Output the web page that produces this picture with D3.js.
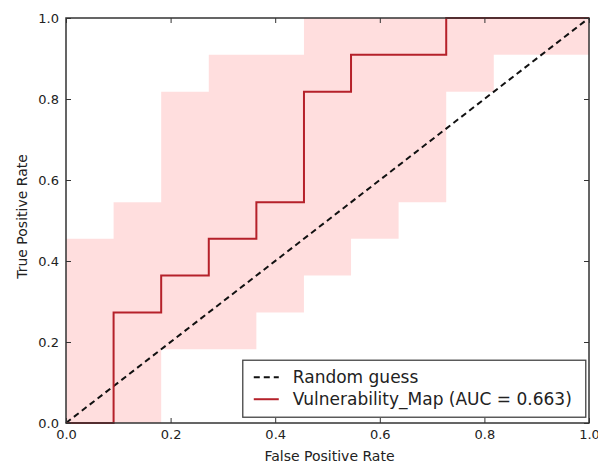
<!DOCTYPE html>
<html>
<head>
<meta charset="utf-8">
<script src="https://cdn.jsdelivr.net/npm/d3@7"></script>
<style>
  body { margin: 0; background: #fff; }
  text { font-family: "DejaVu Sans", sans-serif; fill: #222; }
</style>
</head>
<body>
<div id="chart"></div>
<script>
var svgWidth = 598;
var svgHeight = 466;

var margin = { top: 18, right: 9, bottom: 43, left: 66 };
var width = svgWidth - margin.left - margin.right;
var height = svgHeight - margin.top - margin.bottom;

// ROC curve (step after)
var rocFpr = [0, 0.091, 0.182, 0.273, 0.364, 0.455, 0.545, 0.727, 1.0];
var rocTpr = [0, 0.273, 0.364, 0.455, 0.545, 0.818, 0.909, 1.0, 1.0];

// confidence band (step after)
var bandFpr = [0, 0.091, 0.182, 0.273, 0.364, 0.455, 0.545, 0.636, 0.727, 0.818, 1.0];
var bandLow = [0, 0, 0.182, 0.182, 0.273, 0.364, 0.455, 0.545, 0.818, 0.909, 0.909];
var bandHigh = [0.455, 0.545, 0.818, 0.909, 0.909, 1.0, 1.0, 1.0, 1.0, 1.0, 1.0];

var guessX = [0, 1];
var guessY = [0, 1];

var tickValues = [0, 0.2, 0.4, 0.6, 0.8, 1.0];
var legendLabels = ["Random guess", "Vulnerability_Map (AUC = 0.663)"];

var svg = d3.select("#chart")
    .append("svg")
    .attr("width", svgWidth)
    .attr("height", svgHeight);

var chartGroup = svg.append("g")
    .attr("transform", `translate(${margin.left}, ${margin.top})`);

var x = d3.scaleLinear().domain([0, 1]).range([0, width]);
var y = d3.scaleLinear().domain([0, 1]).range([height, 0]);

// band
var band = bandFpr.map((f, i) => ({ f: f, lo: bandLow[i], hi: bandHigh[i] }));
chartGroup.append("path")
    .datum(band)
    .attr("d", d3.area()
        .x(d => x(d.f))
        .y0(d => y(d.lo))
        .y1(d => y(d.hi))
        .curve(d3.curveStepAfter))
    .attr("fill", "#ff0000")
    .attr("fill-opacity", 0.13);

// random guess diagonal
chartGroup.append("path")
    .datum(guessX.map((g, i) => [g, guessY[i]]))
    .attr("d", d3.line().x(d => x(d[0])).y(d => y(d[1])))
    .attr("fill", "none")
    .attr("stroke", "#111")
    .attr("stroke-width", 2)
    .attr("stroke-dasharray", "6,4");

// roc curve
chartGroup.append("path")
    .datum(rocFpr.map((f, i) => [f, rocTpr[i]]))
    .attr("d", d3.line().x(d => x(d[0])).y(d => y(d[1])).curve(d3.curveStepAfter))
    .attr("fill", "none")
    .attr("stroke", "#b5212a")
    .attr("stroke-width", 2);

// axes, ticks pointing inward
var bottomAxis = d3.axisBottom(x).tickValues(tickValues).tickFormat(d3.format(".1f")).tickSizeInner(-5).tickSizeOuter(0).tickPadding(7);
var leftAxis = d3.axisLeft(y).tickValues(tickValues).tickFormat(d3.format(".1f")).tickSizeInner(-5).tickSizeOuter(0).tickPadding(7);
var topAxis = d3.axisTop(x).tickValues(tickValues).tickFormat("").tickSizeInner(-5).tickSizeOuter(0);
var rightAxis = d3.axisRight(y).tickValues(tickValues).tickFormat("").tickSizeInner(-5).tickSizeOuter(0);

function styleAxis(g) {
    g.select(".domain").remove();
    g.selectAll(".tick line").attr("stroke", "#333").attr("stroke-width", 1);
    g.selectAll(".tick text").attr("font-size", "13px").attr("fill", "#222");
}

chartGroup.append("g").attr("transform", `translate(0, ${height})`).call(bottomAxis).call(styleAxis);
chartGroup.append("g").call(leftAxis).call(styleAxis);
chartGroup.append("g").call(topAxis).call(styleAxis);
chartGroup.append("g").attr("transform", `translate(${width}, 0)`).call(rightAxis).call(styleAxis);

// frame
chartGroup.append("rect")
    .attr("width", width)
    .attr("height", height)
    .attr("fill", "none")
    .attr("stroke", "#333")
    .attr("stroke-width", 1.5);

// legend
var legend = chartGroup.append("g")
    .attr("transform", `translate(${x(0.338)}, ${y(0.155)})`);

legend.append("rect")
    .attr("width", 343)
    .attr("height", 57)
    .attr("fill", "#fff")
    .attr("stroke", "#444")
    .attr("stroke-width", 1.3);

legend.append("line")
    .attr("x1", 11).attr("x2", 36)
    .attr("y1", 17).attr("y2", 17)
    .attr("stroke", "#111")
    .attr("stroke-width", 2)
    .attr("stroke-dasharray", "6,4");

legend.append("line")
    .attr("x1", 11).attr("x2", 36)
    .attr("y1", 39).attr("y2", 39)
    .attr("stroke", "#b5212a")
    .attr("stroke-width", 2);

legend.selectAll(".leg-text")
    .data(legendLabels)
    .enter()
    .append("text")
    .classed("leg-text", true)
    .attr("x", 50)
    .attr("y", (d, i) => 17 + i * 22)
    .attr("dy", "0.35em")
    .attr("font-size", "17px")
    .text(d => d);

// axis labels
chartGroup.append("text")
    .attr("transform", "rotate(-90)")
    .attr("x", -height / 2 + 4)
    .attr("y", -39)
    .attr("text-anchor", "middle")
    .attr("font-size", "14px")
    .text("True Positive Rate");

chartGroup.append("text")
    .attr("x", width / 2 + 2)
    .attr("y", height + 38)
    .attr("text-anchor", "middle")
    .attr("font-size", "14px")
    .text("False Positive Rate");
</script>
</body>
</html>
